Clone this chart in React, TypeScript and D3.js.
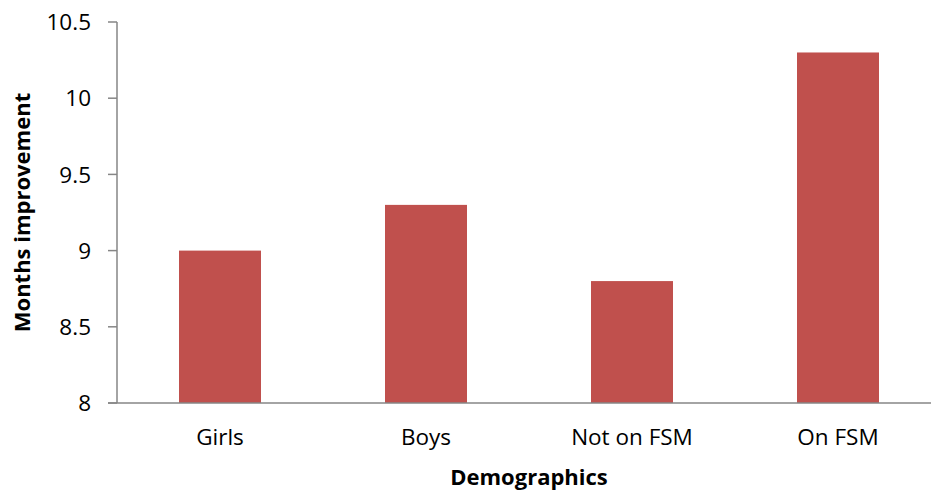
import React from "react";
import * as d3 from "d3";

const categories: string[] = ["Girls", "Boys", "Not on FSM", "On FSM"];
const values: number[] = [9.0, 9.3, 8.8, 10.3];
const yTicks: number[] = [8, 8.5, 9, 9.5, 10, 10.5];
const xTitle = "Demographics";
const yTitle = "Months improvement";

const W = 931;
const H = 494;
const FONT = "'Open Sans', 'Liberation Sans', sans-serif";

export default function App() {
  const left = 117;
  const right = 941;
  const top = 22;
  const bottom = 403;
  const x = d3
    .scaleBand<string>()
    .domain(categories)
    .range([left, right])
    .paddingInner(0.602)
    .paddingOuter(0.301);
  const y = d3.scaleLinear().domain([8, 10.5]).range([bottom, top]);
  const axisColor = "#868686";

  return (
    <svg
      width={W}
      height={H}
      style={{ position: "absolute", left: 0, top: 0, background: "#fff" }}
      fontFamily={FONT}
    >
      {categories.map((c, i) => (
        <rect
          key={c}
          x={x(c)}
          y={y(values[i])}
          width={x.bandwidth()}
          height={bottom - y(values[i])}
          fill="#C0504D"
        />
      ))}
      <line x1={left} x2={left} y1={top} y2={bottom} stroke={axisColor} strokeWidth={1.5} />
      <line x1={left - 9} x2={W} y1={bottom} y2={bottom} stroke={axisColor} strokeWidth={1.5} />
      {yTicks.map((t) => (
        <g key={t}>
          <line x1={left - 9} x2={left} y1={y(t)} y2={y(t)} stroke={axisColor} strokeWidth={1.5} />
          <text x={91} y={y(t)} dy="0.36em" textAnchor="end" fontSize={22.5} fill="#000">
            {String(t)}
          </text>
        </g>
      ))}
      {categories.map((c) => (
        <text
          key={c}
          x={(x(c) as number) + x.bandwidth() / 2}
          y={445}
          textAnchor="middle"
          fontSize={22.5}
          fill="#000"
        >
          {c}
        </text>
      ))}
      <text
        x={(left + right) / 2}
        y={485}
        textAnchor="middle"
        fontSize={22}
        fontWeight="bold"
        fill="#000"
      >
        {xTitle}
      </text>
      <text
        transform={`translate(30, ${(top + bottom) / 2}) rotate(-90)`}
        textAnchor="middle"
        fontSize={22}
        fontWeight="bold"
        fill="#000"
      >
        {yTitle}
      </text>
    </svg>
  );
}
